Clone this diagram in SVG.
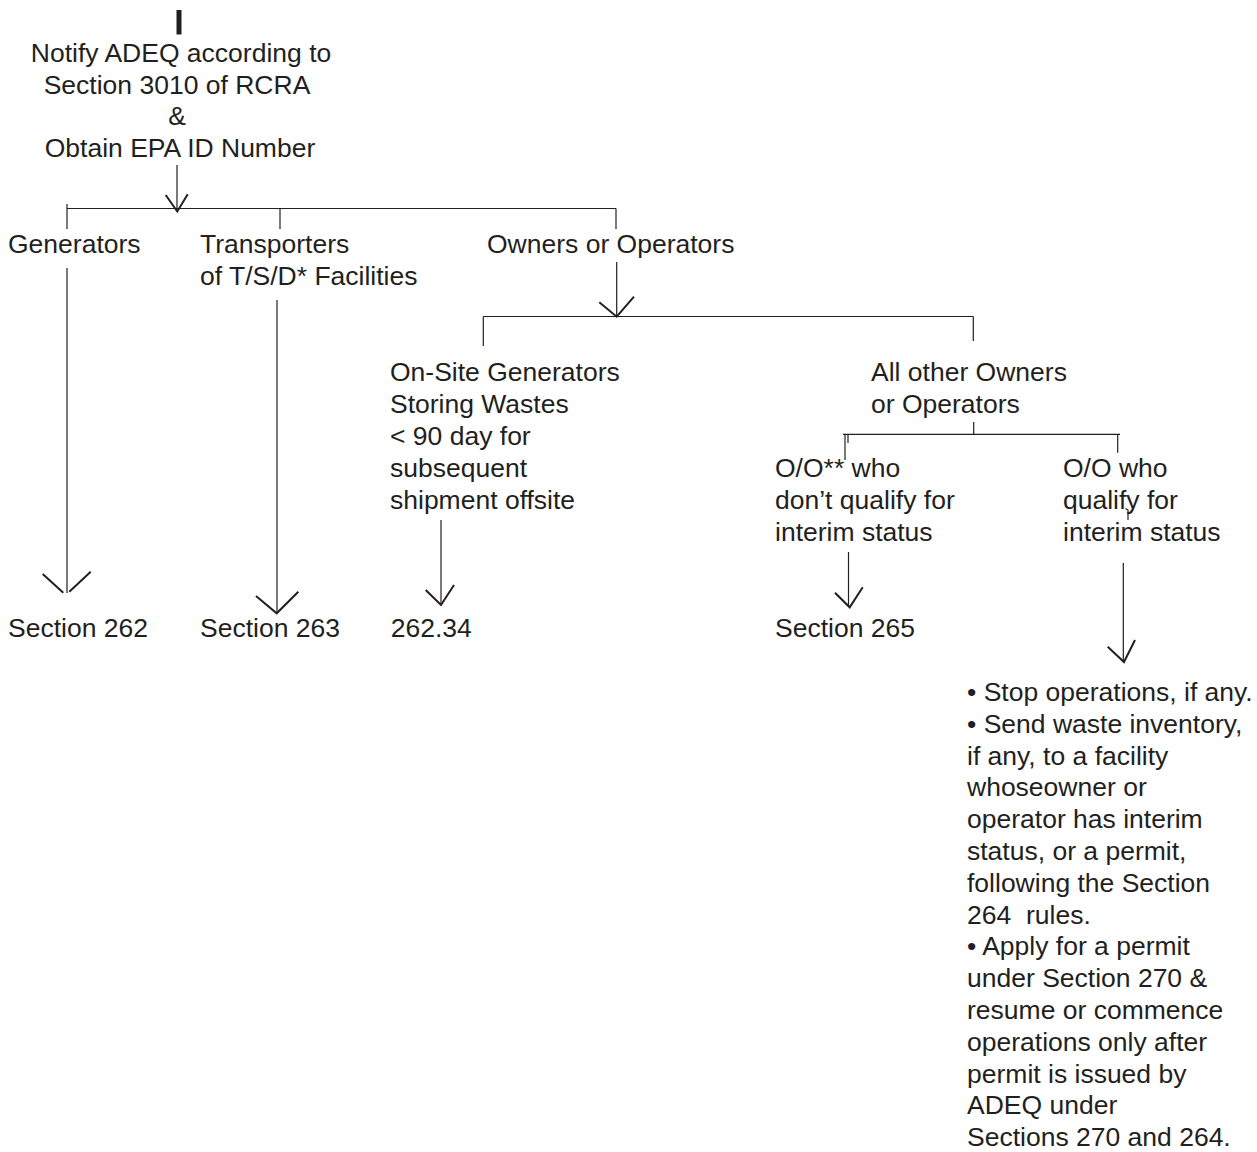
<svg xmlns="http://www.w3.org/2000/svg" width="1257" height="1152" viewBox="0 0 1257 1152">
<style>
text{font-family:"Liberation Sans",Arial,Helvetica,sans-serif;font-size:26.5px;fill:#231f20}
.c{text-anchor:middle}
.ln{stroke:#231f20;stroke-width:1.2;fill:none}
.ah{stroke:#231f20;stroke-width:2;fill:none}
</style>
<rect width="1257" height="1152" fill="#fff"/>
<g id="connectors">
<line x1="179" y1="10" x2="179" y2="34.5" stroke="#231f20" stroke-width="5"/>
<line class="ln" x1="177" y1="165" x2="177" y2="211"/>
<polyline class="ah" points="165.7,195 177.3,211.5 187.7,194.3"/>
<line class="ln" x1="67" y1="208.5" x2="616" y2="208.5"/>
<line class="ln" x1="67" y1="204" x2="67" y2="229"/>
<line class="ln" x1="280" y1="208.5" x2="280" y2="229"/>
<line class="ln" x1="616" y1="208.5" x2="616" y2="229"/>
<line class="ln" x1="67" y1="268" x2="67" y2="593"/>
<line class="ah" x1="42.7" y1="574" x2="63.3" y2="592.7"/>
<line class="ah" x1="69.3" y1="591.7" x2="90.7" y2="571.7"/>
<line class="ln" x1="277" y1="300" x2="277" y2="613"/>
<polyline class="ah" points="256,596 276.7,613.3 298.3,591.7"/>
<line class="ln" x1="616.7" y1="262" x2="616.7" y2="316.5"/>
<polyline class="ah" points="599.3,302.3 616.7,316.7 634,296.7"/>
<line class="ln" x1="483.3" y1="316.5" x2="973.3" y2="316.5"/>
<line class="ln" x1="483.3" y1="316.5" x2="483.3" y2="346"/>
<line class="ln" x1="973.3" y1="316.5" x2="973.3" y2="341"/>
<line class="ln" x1="441" y1="520" x2="441" y2="605"/>
<polyline class="ah" points="425.7,590 441,605 454,585"/>
<line class="ln" x1="973.7" y1="422" x2="973.7" y2="434.3"/>
<line class="ln" x1="843" y1="434.3" x2="1120" y2="434.3"/>
<line class="ln" x1="845" y1="434.3" x2="845" y2="460"/>
<line class="ln" x1="848" y1="434.3" x2="848" y2="443" stroke-width="0.8"/>
<line class="ln" x1="1117.7" y1="434.3" x2="1117.7" y2="452.7"/>
<polyline class="ln" points="1125.5,508.5 1128,510 1128,520"/>
<line class="ln" x1="848.5" y1="552" x2="848.5" y2="607"/>
<polyline class="ah" points="835,592.7 849.7,607.3 862.7,587.3"/>
<line class="ln" x1="1123.3" y1="563" x2="1123.3" y2="661"/>
<polyline class="ah" points="1107.7,646.7 1124,662 1135,640"/>
</g>
<g id="notify">
<text class="c" x="181" y="62">Notify ADEQ according to</text>
<text class="c" x="177" y="93.5">Section 3010 of RCRA</text>
<text class="c" x="177" y="125">&amp;</text>
<text class="c" x="180" y="157">Obtain EPA ID Number</text>
</g>
<g id="generators"><text x="8" y="253">Generators</text></g>
<g id="transporters"><text x="200" y="253">Transporters</text><text x="200" y="285">of T/S/D* Facilities</text></g>
<g id="owners"><text x="487" y="253">Owners or Operators</text></g>
<g id="onsite">
<text x="390" y="381">On-Site Generators</text>
<text x="390" y="413">Storing Wastes</text>
<text x="390" y="445">&lt; 90 day for</text>
<text x="390" y="477">subsequent</text>
<text x="390" y="509">shipment offsite</text>
</g>
<g id="allother"><text x="871" y="381">All other Owners</text><text x="871" y="413">or Operators</text></g>
<g id="noqualify">
<text x="775" y="477">O/O** who</text>
<text x="775" y="509">don’t qualify for</text>
<text x="775" y="541">interim status</text>
</g>
<g id="qualify">
<text x="1063" y="477">O/O who</text>
<text x="1063" y="509">qualify for</text>
<text x="1063" y="541">interim status</text>
</g>
<g id="s262"><text x="8" y="637">Section 262</text></g>
<g id="s263"><text x="200" y="637">Section 263</text></g>
<g id="s26234"><text x="390.7" y="637">262.34</text></g>
<g id="s265"><text x="775" y="637">Section 265</text></g>
<g id="actions">
<text x="967" y="701">• Stop operations, if any.</text>
<text x="967" y="732.8">• Send waste inventory,</text>
<text x="967" y="764.6">if any, to a facility</text>
<text x="967" y="796.4">whoseowner or</text>
<text x="967" y="828.2">operator has interim</text>
<text x="967" y="860">status, or a permit,</text>
<text x="967" y="891.8">following the Section</text>
<text x="967" y="923.6" xml:space="preserve">264  rules.</text>
<text x="967" y="955.4">• Apply for a permit</text>
<text x="967" y="987.2">under Section 270 &amp;</text>
<text x="967" y="1019">resume or commence</text>
<text x="967" y="1050.8">operations only after</text>
<text x="967" y="1082.6">permit is issued by</text>
<text x="967" y="1114.4">ADEQ under</text>
<text x="967" y="1146.2">Sections 270 and 264.</text>
</g>
</svg>
